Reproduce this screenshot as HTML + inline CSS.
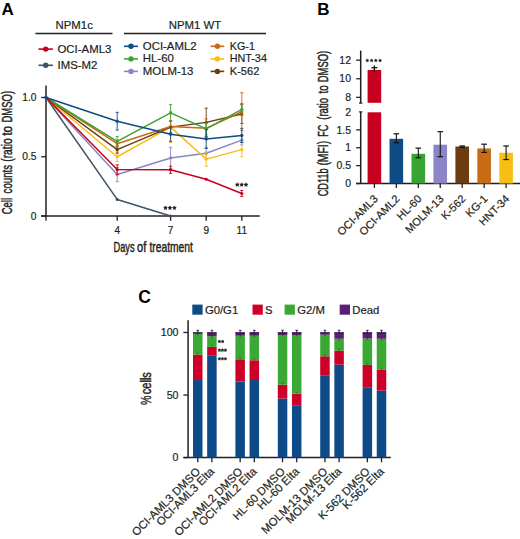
<!DOCTYPE html>
<html><head><meta charset="utf-8"><style>
html,body{margin:0;padding:0;background:#fff;}
svg{display:block;font-family:"Liberation Sans", sans-serif;}
</style></head><body>
<svg width="520" height="539" viewBox="0 0 520 539">
<rect width="520" height="539" fill="#fff"/>
<text x="1.6" y="15.4" font-size="17" text-anchor="start" font-weight="bold" fill="#000"  >A</text>
<text x="74.2" y="28.5" font-size="11.4" text-anchor="middle" font-weight="normal" fill="#231f20" stroke="#231f20" stroke-width="0.2" >NPM1c</text>
<line x1="35.4" y1="33.5" x2="112.5" y2="33.5" stroke="#231f20" stroke-width="1.3"/>
<text x="195" y="28.5" font-size="11.4" text-anchor="middle" font-weight="normal" fill="#231f20" stroke="#231f20" stroke-width="0.2" >NPM1 WT</text>
<line x1="124" y1="33.5" x2="266" y2="33.5" stroke="#231f20" stroke-width="1.3"/>
<line x1="38.5" y1="49.1" x2="52.9" y2="49.1" stroke="#c8001f" stroke-width="1.6"/>
<circle cx="45.7" cy="49.1" r="2.7" fill="#c8001f"/>
<text x="57.5" y="52.8" font-size="11.4" text-anchor="start" font-weight="normal" fill="#231f20" stroke="#231f20" stroke-width="0.2" >OCI-AML3</text>
<line x1="38.5" y1="65.3" x2="52.9" y2="65.3" stroke="#3f5266" stroke-width="1.6"/>
<circle cx="45.7" cy="65.3" r="2.7" fill="#3f5266"/>
<text x="57.5" y="69.0" font-size="11.4" text-anchor="start" font-weight="normal" fill="#231f20" stroke="#231f20" stroke-width="0.2" >IMS-M2</text>
<line x1="124" y1="46.3" x2="138" y2="46.3" stroke="#0f4b84" stroke-width="1.6"/>
<circle cx="131.0" cy="46.3" r="2.7" fill="#0f4b84"/>
<text x="142.8" y="49.8" font-size="11.4" text-anchor="start" font-weight="normal" fill="#231f20" stroke="#231f20" stroke-width="0.2" >OCI-AML2</text>
<line x1="124" y1="58.9" x2="138" y2="58.9" stroke="#38a434" stroke-width="1.6"/>
<circle cx="131.0" cy="58.9" r="2.7" fill="#38a434"/>
<text x="142.8" y="62.4" font-size="11.4" text-anchor="start" font-weight="normal" fill="#231f20" stroke="#231f20" stroke-width="0.2" >HL-60</text>
<line x1="124" y1="71.4" x2="138" y2="71.4" stroke="#8b84c6" stroke-width="1.6"/>
<circle cx="131.0" cy="71.4" r="2.7" fill="#8b84c6"/>
<text x="142.8" y="74.9" font-size="11.4" text-anchor="start" font-weight="normal" fill="#231f20" stroke="#231f20" stroke-width="0.2" >MOLM-13</text>
<line x1="210.6" y1="46.3" x2="224.2" y2="46.3" stroke="#c76c14" stroke-width="1.6"/>
<circle cx="217.39999999999998" cy="46.3" r="2.7" fill="#c76c14"/>
<text x="229.7" y="49.8" font-size="11.4" text-anchor="start" font-weight="normal" fill="#231f20" stroke="#231f20" stroke-width="0.2" textLength="25.2" lengthAdjust="spacingAndGlyphs">KG-1</text>
<line x1="210.6" y1="58.9" x2="224.2" y2="58.9" stroke="#f7bf14" stroke-width="1.6"/>
<circle cx="217.39999999999998" cy="58.9" r="2.7" fill="#f7bf14"/>
<text x="229.7" y="62.4" font-size="11.4" text-anchor="start" font-weight="normal" fill="#231f20" stroke="#231f20" stroke-width="0.2" textLength="37.2" lengthAdjust="spacingAndGlyphs">HNT-34</text>
<line x1="210.6" y1="71.4" x2="224.2" y2="71.4" stroke="#6c3b10" stroke-width="1.6"/>
<circle cx="217.39999999999998" cy="71.4" r="2.7" fill="#6c3b10"/>
<text x="229.7" y="74.9" font-size="11.4" text-anchor="start" font-weight="normal" fill="#231f20" stroke="#231f20" stroke-width="0.2" textLength="29.8" lengthAdjust="spacingAndGlyphs">K-562</text>
<line x1="46" y1="85.6" x2="46" y2="216.6" stroke="#231f20" stroke-width="1.5"/>
<line x1="41.2" y1="216" x2="259.8" y2="216" stroke="#231f20" stroke-width="1.5"/>
<line x1="41.2" y1="97.5" x2="46" y2="97.5" stroke="#231f20" stroke-width="1.3"/>
<text x="36.4" y="101.1" font-size="10.2" text-anchor="end" font-weight="normal" fill="#231f20" stroke="#231f20" stroke-width="0.2" >1.0</text>
<line x1="41.2" y1="156.75" x2="46" y2="156.75" stroke="#231f20" stroke-width="1.3"/>
<text x="36.4" y="160.35" font-size="10.2" text-anchor="end" font-weight="normal" fill="#231f20" stroke="#231f20" stroke-width="0.2" >0.5</text>
<line x1="41.2" y1="216.0" x2="46" y2="216.0" stroke="#231f20" stroke-width="1.3"/>
<text x="36.4" y="219.6" font-size="10.2" text-anchor="end" font-weight="normal" fill="#231f20" stroke="#231f20" stroke-width="0.2" >0</text>
<line x1="46.0" y1="216" x2="46.0" y2="220.8" stroke="#231f20" stroke-width="1.3"/>
<line x1="117.2" y1="216" x2="117.2" y2="220.8" stroke="#231f20" stroke-width="1.3"/>
<line x1="170.60000000000002" y1="216" x2="170.60000000000002" y2="220.8" stroke="#231f20" stroke-width="1.3"/>
<line x1="206.20000000000002" y1="216" x2="206.20000000000002" y2="220.8" stroke="#231f20" stroke-width="1.3"/>
<line x1="241.8" y1="216" x2="241.8" y2="220.8" stroke="#231f20" stroke-width="1.3"/>
<text x="117.2" y="233.8" font-size="10" text-anchor="middle" font-weight="normal" fill="#231f20" stroke="#231f20" stroke-width="0.2" >4</text>
<text x="170.60000000000002" y="233.8" font-size="10" text-anchor="middle" font-weight="normal" fill="#231f20" stroke="#231f20" stroke-width="0.2" >7</text>
<text x="206.20000000000002" y="233.8" font-size="10" text-anchor="middle" font-weight="normal" fill="#231f20" stroke="#231f20" stroke-width="0.2" >9</text>
<text x="241.8" y="233.8" font-size="10" text-anchor="middle" font-weight="normal" fill="#231f20" stroke="#231f20" stroke-width="0.2" >11</text>
<text x="113.50" y="251.8" font-size="14.6" fill="#231f20" stroke="#231f20" stroke-width="0.45" textLength="21.10" lengthAdjust="spacingAndGlyphs">Days</text>
<text x="137.10" y="251.8" font-size="14.6" fill="#231f20" stroke="#231f20" stroke-width="0.45" textLength="9.20" lengthAdjust="spacingAndGlyphs">of</text>
<text x="149.50" y="251.8" font-size="14.6" fill="#231f20" stroke="#231f20" stroke-width="0.45" textLength="43.30" lengthAdjust="spacingAndGlyphs">treatment</text>
<text transform="translate(12.1,214.30) rotate(-90)" x="0" y="0" font-size="14.6" fill="#231f20" stroke="#231f20" stroke-width="0.45" textLength="16.30" lengthAdjust="spacingAndGlyphs">Cell</text>
<text transform="translate(12.1,193.40) rotate(-90)" x="0" y="0" font-size="14.6" fill="#231f20" stroke="#231f20" stroke-width="0.45" textLength="28.40" lengthAdjust="spacingAndGlyphs">counts</text>
<text transform="translate(12.1,161.70) rotate(-90)" x="0" y="0" font-size="14.6" fill="#231f20" stroke="#231f20" stroke-width="0.45" textLength="23.30" lengthAdjust="spacingAndGlyphs">(ratio</text>
<text transform="translate(12.1,135.80) rotate(-90)" x="0" y="0" font-size="14.6" fill="#231f20" stroke="#231f20" stroke-width="0.45" textLength="9.90" lengthAdjust="spacingAndGlyphs">to</text>
<text transform="translate(12.1,122.50) rotate(-90)" x="0" y="0" font-size="14.6" fill="#231f20" stroke="#231f20" stroke-width="0.45" textLength="31.60" lengthAdjust="spacingAndGlyphs">DMSO)</text>
<polyline points="46.00,97.50 117.20,199.41 170.60,216.00" fill="none" stroke="#3f5266" stroke-width="1.5" stroke-linejoin="round"/>
<circle cx="117.20" cy="199.41" r="1.6" fill="#3f5266"/>
<circle cx="170.60" cy="216.00" r="1.6" fill="#3f5266"/>
<polyline points="46.00,97.50 117.20,174.53 170.60,157.94 206.20,153.19 241.80,140.16" fill="none" stroke="#8b84c6" stroke-width="1.5" stroke-linejoin="round"/>
<line x1="117.2" y1="167.41500000000002" x2="117.2" y2="181.635" stroke="#8b84c6" stroke-width="0.9"/>
<line x1="115.60000000000001" y1="167.41500000000002" x2="118.8" y2="167.41500000000002" stroke="#8b84c6" stroke-width="0.9"/>
<line x1="115.60000000000001" y1="181.635" x2="118.8" y2="181.635" stroke="#8b84c6" stroke-width="0.9"/>
<circle cx="117.20" cy="174.53" r="1.6" fill="#8b84c6"/>
<line x1="170.60000000000002" y1="147.27" x2="170.60000000000002" y2="168.6" stroke="#8b84c6" stroke-width="0.9"/>
<line x1="169.00000000000003" y1="147.27" x2="172.20000000000002" y2="147.27" stroke="#8b84c6" stroke-width="0.9"/>
<line x1="169.00000000000003" y1="168.6" x2="172.20000000000002" y2="168.6" stroke="#8b84c6" stroke-width="0.9"/>
<circle cx="170.60" cy="157.94" r="1.6" fill="#8b84c6"/>
<line x1="206.20000000000002" y1="147.26999999999998" x2="206.20000000000002" y2="159.12" stroke="#8b84c6" stroke-width="0.9"/>
<line x1="204.60000000000002" y1="147.26999999999998" x2="207.8" y2="147.26999999999998" stroke="#8b84c6" stroke-width="0.9"/>
<line x1="204.60000000000002" y1="159.12" x2="207.8" y2="159.12" stroke="#8b84c6" stroke-width="0.9"/>
<circle cx="206.20" cy="153.19" r="1.6" fill="#8b84c6"/>
<line x1="241.8" y1="135.42" x2="241.8" y2="144.9" stroke="#8b84c6" stroke-width="0.9"/>
<line x1="240.20000000000002" y1="135.42" x2="243.4" y2="135.42" stroke="#8b84c6" stroke-width="0.9"/>
<line x1="240.20000000000002" y1="144.9" x2="243.4" y2="144.9" stroke="#8b84c6" stroke-width="0.9"/>
<circle cx="241.80" cy="140.16" r="1.6" fill="#8b84c6"/>
<polyline points="46.00,97.50 117.20,156.75 170.60,127.12 206.20,159.12 241.80,149.64" fill="none" stroke="#f7bf14" stroke-width="1.5" stroke-linejoin="round"/>
<line x1="117.2" y1="152.01" x2="117.2" y2="161.49" stroke="#f7bf14" stroke-width="0.9"/>
<line x1="115.60000000000001" y1="152.01" x2="118.8" y2="152.01" stroke="#f7bf14" stroke-width="0.9"/>
<line x1="115.60000000000001" y1="161.49" x2="118.8" y2="161.49" stroke="#f7bf14" stroke-width="0.9"/>
<circle cx="117.20" cy="156.75" r="1.6" fill="#f7bf14"/>
<line x1="170.60000000000002" y1="111.72" x2="170.60000000000002" y2="142.53" stroke="#f7bf14" stroke-width="0.9"/>
<line x1="169.00000000000003" y1="111.72" x2="172.20000000000002" y2="111.72" stroke="#f7bf14" stroke-width="0.9"/>
<line x1="169.00000000000003" y1="142.53" x2="172.20000000000002" y2="142.53" stroke="#f7bf14" stroke-width="0.9"/>
<circle cx="170.60" cy="127.12" r="1.6" fill="#f7bf14"/>
<line x1="206.20000000000002" y1="152.01" x2="206.20000000000002" y2="166.23000000000002" stroke="#f7bf14" stroke-width="0.9"/>
<line x1="204.60000000000002" y1="152.01" x2="207.8" y2="152.01" stroke="#f7bf14" stroke-width="0.9"/>
<line x1="204.60000000000002" y1="166.23000000000002" x2="207.8" y2="166.23000000000002" stroke="#f7bf14" stroke-width="0.9"/>
<circle cx="206.20" cy="159.12" r="1.6" fill="#f7bf14"/>
<line x1="241.8" y1="142.52999999999997" x2="241.8" y2="156.75" stroke="#f7bf14" stroke-width="0.9"/>
<line x1="240.20000000000002" y1="142.52999999999997" x2="243.4" y2="142.52999999999997" stroke="#f7bf14" stroke-width="0.9"/>
<line x1="240.20000000000002" y1="156.75" x2="243.4" y2="156.75" stroke="#f7bf14" stroke-width="0.9"/>
<circle cx="241.80" cy="149.64" r="1.6" fill="#f7bf14"/>
<polyline points="46.00,97.50 117.20,149.64 170.60,127.12 206.20,122.38 241.80,114.09" fill="none" stroke="#6c3b10" stroke-width="1.5" stroke-linejoin="round"/>
<line x1="117.2" y1="146.08499999999998" x2="117.2" y2="153.195" stroke="#6c3b10" stroke-width="0.9"/>
<line x1="115.60000000000001" y1="146.08499999999998" x2="118.8" y2="146.08499999999998" stroke="#6c3b10" stroke-width="0.9"/>
<line x1="115.60000000000001" y1="153.195" x2="118.8" y2="153.195" stroke="#6c3b10" stroke-width="0.9"/>
<circle cx="117.20" cy="149.64" r="1.6" fill="#6c3b10"/>
<line x1="170.60000000000002" y1="121.19999999999999" x2="170.60000000000002" y2="133.05" stroke="#6c3b10" stroke-width="0.9"/>
<line x1="169.00000000000003" y1="121.19999999999999" x2="172.20000000000002" y2="121.19999999999999" stroke="#6c3b10" stroke-width="0.9"/>
<line x1="169.00000000000003" y1="133.05" x2="172.20000000000002" y2="133.05" stroke="#6c3b10" stroke-width="0.9"/>
<circle cx="170.60" cy="127.12" r="1.6" fill="#6c3b10"/>
<line x1="206.20000000000002" y1="108.16499999999999" x2="206.20000000000002" y2="136.605" stroke="#6c3b10" stroke-width="0.9"/>
<line x1="204.60000000000002" y1="108.16499999999999" x2="207.8" y2="108.16499999999999" stroke="#6c3b10" stroke-width="0.9"/>
<line x1="204.60000000000002" y1="136.605" x2="207.8" y2="136.605" stroke="#6c3b10" stroke-width="0.9"/>
<circle cx="206.20" cy="122.38" r="1.6" fill="#6c3b10"/>
<line x1="241.8" y1="104.61" x2="241.8" y2="123.57" stroke="#6c3b10" stroke-width="0.9"/>
<line x1="240.20000000000002" y1="104.61" x2="243.4" y2="104.61" stroke="#6c3b10" stroke-width="0.9"/>
<line x1="240.20000000000002" y1="123.57" x2="243.4" y2="123.57" stroke="#6c3b10" stroke-width="0.9"/>
<circle cx="241.80" cy="114.09" r="1.6" fill="#6c3b10"/>
<polyline points="46.00,97.50 117.20,143.72 170.60,126.53 206.20,128.31 241.80,111.72" fill="none" stroke="#c76c14" stroke-width="1.5" stroke-linejoin="round"/>
<line x1="117.2" y1="140.16" x2="117.2" y2="147.27" stroke="#c76c14" stroke-width="0.9"/>
<line x1="115.60000000000001" y1="140.16" x2="118.8" y2="140.16" stroke="#c76c14" stroke-width="0.9"/>
<line x1="115.60000000000001" y1="147.27" x2="118.8" y2="147.27" stroke="#c76c14" stroke-width="0.9"/>
<circle cx="117.20" cy="143.72" r="1.6" fill="#c76c14"/>
<line x1="170.60000000000002" y1="120.60749999999999" x2="170.60000000000002" y2="132.4575" stroke="#c76c14" stroke-width="0.9"/>
<line x1="169.00000000000003" y1="120.60749999999999" x2="172.20000000000002" y2="120.60749999999999" stroke="#c76c14" stroke-width="0.9"/>
<line x1="169.00000000000003" y1="132.4575" x2="172.20000000000002" y2="132.4575" stroke="#c76c14" stroke-width="0.9"/>
<circle cx="170.60" cy="126.53" r="1.6" fill="#c76c14"/>
<line x1="206.20000000000002" y1="118.83000000000001" x2="206.20000000000002" y2="137.79" stroke="#c76c14" stroke-width="0.9"/>
<line x1="204.60000000000002" y1="118.83000000000001" x2="207.8" y2="118.83000000000001" stroke="#c76c14" stroke-width="0.9"/>
<line x1="204.60000000000002" y1="137.79" x2="207.8" y2="137.79" stroke="#c76c14" stroke-width="0.9"/>
<circle cx="206.20" cy="128.31" r="1.6" fill="#c76c14"/>
<line x1="241.8" y1="92.75999999999999" x2="241.8" y2="130.68" stroke="#c76c14" stroke-width="0.9"/>
<line x1="240.20000000000002" y1="92.75999999999999" x2="243.4" y2="92.75999999999999" stroke="#c76c14" stroke-width="0.9"/>
<line x1="240.20000000000002" y1="130.68" x2="243.4" y2="130.68" stroke="#c76c14" stroke-width="0.9"/>
<circle cx="241.80" cy="111.72" r="1.6" fill="#c76c14"/>
<polyline points="46.00,97.50 117.20,141.34 170.60,112.91 206.20,128.90 241.80,109.35" fill="none" stroke="#38a434" stroke-width="1.5" stroke-linejoin="round"/>
<line x1="117.2" y1="136.605" x2="117.2" y2="146.085" stroke="#38a434" stroke-width="0.9"/>
<line x1="115.60000000000001" y1="136.605" x2="118.8" y2="136.605" stroke="#38a434" stroke-width="0.9"/>
<line x1="115.60000000000001" y1="146.085" x2="118.8" y2="146.085" stroke="#38a434" stroke-width="0.9"/>
<circle cx="117.20" cy="141.34" r="1.6" fill="#38a434"/>
<line x1="170.60000000000002" y1="104.61" x2="170.60000000000002" y2="121.19999999999999" stroke="#38a434" stroke-width="0.9"/>
<line x1="169.00000000000003" y1="104.61" x2="172.20000000000002" y2="104.61" stroke="#38a434" stroke-width="0.9"/>
<line x1="169.00000000000003" y1="121.19999999999999" x2="172.20000000000002" y2="121.19999999999999" stroke="#38a434" stroke-width="0.9"/>
<circle cx="170.60" cy="112.91" r="1.6" fill="#38a434"/>
<line x1="206.20000000000002" y1="122.97749999999999" x2="206.20000000000002" y2="134.8275" stroke="#38a434" stroke-width="0.9"/>
<line x1="204.60000000000002" y1="122.97749999999999" x2="207.8" y2="122.97749999999999" stroke="#38a434" stroke-width="0.9"/>
<line x1="204.60000000000002" y1="134.8275" x2="207.8" y2="134.8275" stroke="#38a434" stroke-width="0.9"/>
<circle cx="206.20" cy="128.90" r="1.6" fill="#38a434"/>
<line x1="241.8" y1="103.425" x2="241.8" y2="115.275" stroke="#38a434" stroke-width="0.9"/>
<line x1="240.20000000000002" y1="103.425" x2="243.4" y2="103.425" stroke="#38a434" stroke-width="0.9"/>
<line x1="240.20000000000002" y1="115.275" x2="243.4" y2="115.275" stroke="#38a434" stroke-width="0.9"/>
<circle cx="241.80" cy="109.35" r="1.6" fill="#38a434"/>
<polyline points="46.00,97.50 117.20,121.20 170.60,134.24 206.20,138.97 241.80,135.42" fill="none" stroke="#0f4b84" stroke-width="1.5" stroke-linejoin="round"/>
<line x1="117.2" y1="112.3125" x2="117.2" y2="130.08749999999998" stroke="#0f4b84" stroke-width="0.9"/>
<line x1="115.60000000000001" y1="112.3125" x2="118.8" y2="112.3125" stroke="#0f4b84" stroke-width="0.9"/>
<line x1="115.60000000000001" y1="130.08749999999998" x2="118.8" y2="130.08749999999998" stroke="#0f4b84" stroke-width="0.9"/>
<circle cx="117.20" cy="121.20" r="1.6" fill="#0f4b84"/>
<line x1="170.60000000000002" y1="127.125" x2="170.60000000000002" y2="141.34500000000003" stroke="#0f4b84" stroke-width="0.9"/>
<line x1="169.00000000000003" y1="127.125" x2="172.20000000000002" y2="127.125" stroke="#0f4b84" stroke-width="0.9"/>
<line x1="169.00000000000003" y1="141.34500000000003" x2="172.20000000000002" y2="141.34500000000003" stroke="#0f4b84" stroke-width="0.9"/>
<circle cx="170.60" cy="134.24" r="1.6" fill="#0f4b84"/>
<line x1="206.20000000000002" y1="129.495" x2="206.20000000000002" y2="148.45499999999998" stroke="#0f4b84" stroke-width="0.9"/>
<line x1="204.60000000000002" y1="129.495" x2="207.8" y2="129.495" stroke="#0f4b84" stroke-width="0.9"/>
<line x1="204.60000000000002" y1="148.45499999999998" x2="207.8" y2="148.45499999999998" stroke="#0f4b84" stroke-width="0.9"/>
<circle cx="206.20" cy="138.97" r="1.6" fill="#0f4b84"/>
<line x1="241.8" y1="128.31" x2="241.8" y2="142.52999999999997" stroke="#0f4b84" stroke-width="0.9"/>
<line x1="240.20000000000002" y1="128.31" x2="243.4" y2="128.31" stroke="#0f4b84" stroke-width="0.9"/>
<line x1="240.20000000000002" y1="142.52999999999997" x2="243.4" y2="142.52999999999997" stroke="#0f4b84" stroke-width="0.9"/>
<circle cx="241.80" cy="135.42" r="1.6" fill="#0f4b84"/>
<polyline points="46.00,97.50 117.20,169.55 170.60,169.78 206.20,179.26 241.80,193.49" fill="none" stroke="#c8001f" stroke-width="1.5" stroke-linejoin="round"/>
<line x1="117.2" y1="164.808" x2="117.2" y2="174.288" stroke="#c8001f" stroke-width="0.9"/>
<line x1="115.60000000000001" y1="164.808" x2="118.8" y2="164.808" stroke="#c8001f" stroke-width="0.9"/>
<line x1="115.60000000000001" y1="174.288" x2="118.8" y2="174.288" stroke="#c8001f" stroke-width="0.9"/>
<circle cx="117.20" cy="169.55" r="1.6" fill="#c8001f"/>
<line x1="170.60000000000002" y1="166.23" x2="170.60000000000002" y2="173.34" stroke="#c8001f" stroke-width="0.9"/>
<line x1="169.00000000000003" y1="166.23" x2="172.20000000000002" y2="166.23" stroke="#c8001f" stroke-width="0.9"/>
<line x1="169.00000000000003" y1="173.34" x2="172.20000000000002" y2="173.34" stroke="#c8001f" stroke-width="0.9"/>
<circle cx="170.60" cy="169.78" r="1.6" fill="#c8001f"/>
<circle cx="206.20" cy="179.26" r="1.6" fill="#c8001f"/>
<line x1="241.8" y1="190.5225" x2="241.8" y2="196.4475" stroke="#c8001f" stroke-width="0.9"/>
<line x1="240.20000000000002" y1="190.5225" x2="243.4" y2="190.5225" stroke="#c8001f" stroke-width="0.9"/>
<line x1="240.20000000000002" y1="196.4475" x2="243.4" y2="196.4475" stroke="#c8001f" stroke-width="0.9"/>
<circle cx="241.80" cy="193.49" r="1.6" fill="#c8001f"/>
<circle cx="46.00" cy="97.50" r="1.8" fill="#0f4b84"/>
<polygon points="165.50,205.90 166.09,207.09 167.40,207.28 166.45,208.21 166.68,209.52 165.50,208.90 164.32,209.52 164.55,208.21 163.60,207.28 164.91,207.09" fill="#1a1a1a" stroke="#1a1a1a" stroke-width="0.5" stroke-linejoin="round"/>
<polygon points="169.95,205.90 170.54,207.09 171.85,207.28 170.90,208.21 171.13,209.52 169.95,208.90 168.77,209.52 169.00,208.21 168.05,207.28 169.36,207.09" fill="#1a1a1a" stroke="#1a1a1a" stroke-width="0.5" stroke-linejoin="round"/>
<polygon points="174.40,205.90 174.99,207.09 176.30,207.28 175.35,208.21 175.58,209.52 174.40,208.90 173.22,209.52 173.45,208.21 172.50,207.28 173.81,207.09" fill="#1a1a1a" stroke="#1a1a1a" stroke-width="0.5" stroke-linejoin="round"/>
<polygon points="237.30,182.70 237.89,183.89 239.20,184.08 238.25,185.01 238.48,186.32 237.30,185.70 236.12,186.32 236.35,185.01 235.40,184.08 236.71,183.89" fill="#1a1a1a" stroke="#1a1a1a" stroke-width="0.5" stroke-linejoin="round"/>
<polygon points="241.70,182.70 242.29,183.89 243.60,184.08 242.65,185.01 242.88,186.32 241.70,185.70 240.52,186.32 240.75,185.01 239.80,184.08 241.11,183.89" fill="#1a1a1a" stroke="#1a1a1a" stroke-width="0.5" stroke-linejoin="round"/>
<polygon points="246.00,182.70 246.59,183.89 247.90,184.08 246.95,185.01 247.18,186.32 246.00,185.70 244.82,186.32 245.05,185.01 244.10,184.08 245.41,183.89" fill="#1a1a1a" stroke="#1a1a1a" stroke-width="0.5" stroke-linejoin="round"/>
<text x="317.2" y="15.4" font-size="17" text-anchor="start" font-weight="bold" fill="#000"  >B</text>
<line x1="360.7" y1="50.6" x2="360.7" y2="103.1" stroke="#231f20" stroke-width="1.5"/>
<line x1="359.0" y1="103.1" x2="362.4" y2="103.1" stroke="#231f20" stroke-width="1.2"/>
<line x1="360.7" y1="111.9" x2="360.7" y2="183.5" stroke="#231f20" stroke-width="1.5"/>
<line x1="359.0" y1="111.9" x2="362.4" y2="111.9" stroke="#231f20" stroke-width="1.2"/>
<line x1="356.2" y1="183.5" x2="520" y2="183.5" stroke="#231f20" stroke-width="1.5"/>
<line x1="356.2" y1="60.15" x2="360.7" y2="60.15" stroke="#231f20" stroke-width="1.3"/>
<text x="351" y="63.85" font-size="10.5" text-anchor="end" font-weight="normal" fill="#231f20" stroke="#231f20" stroke-width="0.2" >12</text>
<line x1="356.2" y1="78.75" x2="360.7" y2="78.75" stroke="#231f20" stroke-width="1.3"/>
<text x="351" y="82.45" font-size="10.5" text-anchor="end" font-weight="normal" fill="#231f20" stroke="#231f20" stroke-width="0.2" >10</text>
<line x1="356.2" y1="97.35" x2="360.7" y2="97.35" stroke="#231f20" stroke-width="1.3"/>
<text x="351" y="101.05" font-size="10.5" text-anchor="end" font-weight="normal" fill="#231f20" stroke="#231f20" stroke-width="0.2" >8</text>
<text x="351" y="115.7" font-size="10.5" text-anchor="end" font-weight="normal" fill="#231f20" stroke="#231f20" stroke-width="0.2" >2</text>
<line x1="356.2" y1="129.875" x2="360.7" y2="129.875" stroke="#231f20" stroke-width="1.3"/>
<text x="351" y="133.575" font-size="10.5" text-anchor="end" font-weight="normal" fill="#231f20" stroke="#231f20" stroke-width="0.2" >1.5</text>
<line x1="356.2" y1="147.75" x2="360.7" y2="147.75" stroke="#231f20" stroke-width="1.3"/>
<text x="351" y="151.45" font-size="10.5" text-anchor="end" font-weight="normal" fill="#231f20" stroke="#231f20" stroke-width="0.2" >1</text>
<line x1="356.2" y1="165.625" x2="360.7" y2="165.625" stroke="#231f20" stroke-width="1.3"/>
<text x="351" y="169.325" font-size="10.5" text-anchor="end" font-weight="normal" fill="#231f20" stroke="#231f20" stroke-width="0.2" >0.5</text>
<line x1="356.2" y1="183.5" x2="360.7" y2="183.5" stroke="#231f20" stroke-width="1.3"/>
<text x="351" y="187.2" font-size="10.5" text-anchor="end" font-weight="normal" fill="#231f20" stroke="#231f20" stroke-width="0.2" >0</text>
<text transform="translate(327.6,196.30) rotate(-90)" x="0" y="0" font-size="14.4" fill="#231f20" stroke="#231f20" stroke-width="0.45" textLength="27.90" lengthAdjust="spacingAndGlyphs">CD11b</text>
<text transform="translate(327.6,165.60) rotate(-90)" x="0" y="0" font-size="14.4" fill="#231f20" stroke="#231f20" stroke-width="0.45" textLength="24.70" lengthAdjust="spacingAndGlyphs">(MFI)</text>
<text transform="translate(327.6,136.80) rotate(-90)" x="0" y="0" font-size="14.4" fill="#231f20" stroke="#231f20" stroke-width="0.45" textLength="12.20" lengthAdjust="spacingAndGlyphs">FC</text>
<text transform="translate(327.6,119.80) rotate(-90)" x="0" y="0" font-size="14.4" fill="#231f20" stroke="#231f20" stroke-width="0.45" textLength="21.80" lengthAdjust="spacingAndGlyphs">(ratio</text>
<text transform="translate(327.6,93.40) rotate(-90)" x="0" y="0" font-size="14.4" fill="#231f20" stroke="#231f20" stroke-width="0.45" textLength="8.20" lengthAdjust="spacingAndGlyphs">to</text>
<text transform="translate(327.6,82.30) rotate(-90)" x="0" y="0" font-size="14.4" fill="#231f20" stroke="#231f20" stroke-width="0.45" textLength="31.50" lengthAdjust="spacingAndGlyphs">DMSO)</text>
<rect x="367.60" y="69.92" width="13.60" height="32.88" fill="#c8001f"/>
<rect x="367.60" y="112.30" width="13.60" height="71.20" fill="#c8001f"/>
<line x1="374.4" y1="65.4" x2="374.4" y2="71.6" stroke="#111" stroke-width="1.3"/>
<line x1="371.4" y1="67.7" x2="377.4" y2="67.7" stroke="#111" stroke-width="1.3"/>
<line x1="374.4" y1="183.5" x2="374.4" y2="188.0" stroke="#231f20" stroke-width="1.3"/>
<text transform="translate(378.50,199.5) rotate(-45)" x="0" y="0" font-size="11" text-anchor="end" fill="#231f20" stroke="#231f20" stroke-width="0.2">OCI-AML3</text>
<rect x="389.55" y="138.81" width="13.60" height="44.69" fill="#0f4b84"/>
<line x1="396.34999999999997" y1="133.8075" x2="396.34999999999997" y2="142.745" stroke="#111" stroke-width="1.1"/>
<line x1="393.54999999999995" y1="133.8075" x2="399.15" y2="133.8075" stroke="#111" stroke-width="1.2"/>
<line x1="393.54999999999995" y1="142.745" x2="399.15" y2="142.745" stroke="#111" stroke-width="1.2"/>
<line x1="396.34999999999997" y1="183.5" x2="396.34999999999997" y2="188.0" stroke="#231f20" stroke-width="1.3"/>
<text transform="translate(400.45,199.5) rotate(-45)" x="0" y="0" font-size="11" text-anchor="end" fill="#231f20" stroke="#231f20" stroke-width="0.2">OCI-AML2</text>
<rect x="411.50" y="153.83" width="13.60" height="29.67" fill="#38a434"/>
<line x1="418.29999999999995" y1="148.10750000000002" x2="418.29999999999995" y2="157.76" stroke="#111" stroke-width="1.1"/>
<line x1="415.49999999999994" y1="148.10750000000002" x2="421.09999999999997" y2="148.10750000000002" stroke="#111" stroke-width="1.2"/>
<line x1="415.49999999999994" y1="157.76" x2="421.09999999999997" y2="157.76" stroke="#111" stroke-width="1.2"/>
<line x1="418.29999999999995" y1="183.5" x2="418.29999999999995" y2="188.0" stroke="#231f20" stroke-width="1.3"/>
<text transform="translate(422.40,199.5) rotate(-45)" x="0" y="0" font-size="11" text-anchor="end" fill="#231f20" stroke="#231f20" stroke-width="0.2">HL-60</text>
<rect x="433.45" y="144.71" width="13.60" height="38.79" fill="#8b84c6"/>
<line x1="440.25" y1="131.6625" x2="440.25" y2="156.6875" stroke="#111" stroke-width="1.1"/>
<line x1="437.45" y1="131.6625" x2="443.05" y2="131.6625" stroke="#111" stroke-width="1.2"/>
<line x1="437.45" y1="156.6875" x2="443.05" y2="156.6875" stroke="#111" stroke-width="1.2"/>
<line x1="440.25" y1="183.5" x2="440.25" y2="188.0" stroke="#231f20" stroke-width="1.3"/>
<text transform="translate(444.35,199.5) rotate(-45)" x="0" y="0" font-size="11" text-anchor="end" fill="#231f20" stroke="#231f20" stroke-width="0.2">MOLM-13</text>
<rect x="455.40" y="146.50" width="13.60" height="37.00" fill="#6c3b10"/>
<line x1="462.2" y1="145.9625" x2="462.2" y2="147.39249999999998" stroke="#111" stroke-width="1.1"/>
<line x1="459.4" y1="145.9625" x2="465.0" y2="145.9625" stroke="#111" stroke-width="1.2"/>
<line x1="459.4" y1="147.39249999999998" x2="465.0" y2="147.39249999999998" stroke="#111" stroke-width="1.2"/>
<line x1="462.2" y1="183.5" x2="462.2" y2="188.0" stroke="#231f20" stroke-width="1.3"/>
<text transform="translate(466.30,199.5) rotate(-45)" x="0" y="0" font-size="11" text-anchor="end" fill="#231f20" stroke="#231f20" stroke-width="0.2">K-562</text>
<rect x="477.35" y="148.47" width="13.60" height="35.03" fill="#c76c14"/>
<line x1="484.15" y1="144.175" x2="484.15" y2="152.3975" stroke="#111" stroke-width="1.1"/>
<line x1="481.34999999999997" y1="144.175" x2="486.95" y2="144.175" stroke="#111" stroke-width="1.2"/>
<line x1="481.34999999999997" y1="152.3975" x2="486.95" y2="152.3975" stroke="#111" stroke-width="1.2"/>
<line x1="484.15" y1="183.5" x2="484.15" y2="188.0" stroke="#231f20" stroke-width="1.3"/>
<text transform="translate(488.25,199.5) rotate(-45)" x="0" y="0" font-size="11" text-anchor="end" fill="#231f20" stroke="#231f20" stroke-width="0.2">KG-1</text>
<rect x="499.30" y="152.75" width="13.60" height="30.75" fill="#f7bf14"/>
<line x1="506.09999999999997" y1="145.9625" x2="506.09999999999997" y2="159.5475" stroke="#111" stroke-width="1.1"/>
<line x1="503.29999999999995" y1="145.9625" x2="508.9" y2="145.9625" stroke="#111" stroke-width="1.2"/>
<line x1="503.29999999999995" y1="159.5475" x2="508.9" y2="159.5475" stroke="#111" stroke-width="1.2"/>
<line x1="506.09999999999997" y1="183.5" x2="506.09999999999997" y2="188.0" stroke="#231f20" stroke-width="1.3"/>
<text transform="translate(510.20,199.5) rotate(-45)" x="0" y="0" font-size="11" text-anchor="end" fill="#231f20" stroke="#231f20" stroke-width="0.2">HNT-34</text>
<polygon points="367.30,58.90 367.77,59.85 368.82,60.01 368.06,60.75 368.24,61.79 367.30,61.30 366.36,61.79 366.54,60.75 365.78,60.01 366.83,59.85" fill="#1a1a1a" stroke="#1a1a1a" stroke-width="0.5" stroke-linejoin="round"/>
<polygon points="371.60,58.90 372.07,59.85 373.12,60.01 372.36,60.75 372.54,61.79 371.60,61.30 370.66,61.79 370.84,60.75 370.08,60.01 371.13,59.85" fill="#1a1a1a" stroke="#1a1a1a" stroke-width="0.5" stroke-linejoin="round"/>
<polygon points="375.80,58.90 376.27,59.85 377.32,60.01 376.56,60.75 376.74,61.79 375.80,61.30 374.86,61.79 375.04,60.75 374.28,60.01 375.33,59.85" fill="#1a1a1a" stroke="#1a1a1a" stroke-width="0.5" stroke-linejoin="round"/>
<polygon points="380.10,58.90 380.57,59.85 381.62,60.01 380.86,60.75 381.04,61.79 380.10,61.30 379.16,61.79 379.34,60.75 378.58,60.01 379.63,59.85" fill="#1a1a1a" stroke="#1a1a1a" stroke-width="0.5" stroke-linejoin="round"/>
<text x="138.2" y="303.4" font-size="17.5" text-anchor="start" font-weight="bold" fill="#000"  >C</text>
<rect x="192.30" y="304.60" width="10.30" height="10.10" fill="#0f4a88"/>
<text x="204.9" y="313.6" font-size="11.3" text-anchor="start" font-weight="normal" fill="#231f20" stroke="#231f20" stroke-width="0.2" >G0/G1</text>
<rect x="252.50" y="304.60" width="10.30" height="10.10" fill="#cd0029"/>
<text x="265.1" y="313.6" font-size="11.3" text-anchor="start" font-weight="normal" fill="#231f20" stroke="#231f20" stroke-width="0.2" >S</text>
<rect x="284.60" y="304.60" width="10.30" height="10.10" fill="#3aa934"/>
<text x="297.20000000000005" y="313.6" font-size="11.3" text-anchor="start" font-weight="normal" fill="#231f20" stroke="#231f20" stroke-width="0.2" >G2/M</text>
<rect x="339.70" y="304.60" width="10.30" height="10.10" fill="#5a1f77"/>
<text x="352.3" y="313.6" font-size="11.3" text-anchor="start" font-weight="normal" fill="#231f20" stroke="#231f20" stroke-width="0.2" >Dead</text>
<line x1="188.1" y1="320.2" x2="188.1" y2="457.6" stroke="#231f20" stroke-width="1.5"/>
<line x1="183.4" y1="457.6" x2="390.8" y2="457.6" stroke="#231f20" stroke-width="1.5"/>
<line x1="183.4" y1="332.5" x2="188.1" y2="332.5" stroke="#231f20" stroke-width="1.3"/>
<text x="178.5" y="336.3" font-size="10.6" text-anchor="end" font-weight="normal" fill="#231f20" stroke="#231f20" stroke-width="0.2" >100</text>
<line x1="183.4" y1="395.05" x2="188.1" y2="395.05" stroke="#231f20" stroke-width="1.3"/>
<text x="178.5" y="398.85" font-size="10.6" text-anchor="end" font-weight="normal" fill="#231f20" stroke="#231f20" stroke-width="0.2" >50</text>
<line x1="183.4" y1="457.6" x2="188.1" y2="457.6" stroke="#231f20" stroke-width="1.3"/>
<text x="178.5" y="461.40000000000003" font-size="10.6" text-anchor="end" font-weight="normal" fill="#231f20" stroke="#231f20" stroke-width="0.2" >0</text>
<text transform="translate(151.3,405.00) rotate(-90)" x="0" y="0" font-size="14.6" fill="#231f20" stroke="#231f20" stroke-width="0.45" textLength="9.50" lengthAdjust="spacingAndGlyphs">%</text>
<text transform="translate(151.3,394.20) rotate(-90)" x="0" y="0" font-size="14.6" fill="#231f20" stroke="#231f20" stroke-width="0.45" textLength="22.10" lengthAdjust="spacingAndGlyphs">cells</text>
<rect x="193.00" y="380.04" width="9.50" height="77.56" fill="#0f4a88"/>
<rect x="193.00" y="354.64" width="9.50" height="25.40" fill="#cd0029"/>
<rect x="193.00" y="333.75" width="9.50" height="20.89" fill="#3aa934"/>
<rect x="193.00" y="332.50" width="9.50" height="1.25" fill="#5a1f77"/>
<line x1="197.75" y1="457.6" x2="197.75" y2="462.3" stroke="#231f20" stroke-width="1.3"/>
<rect x="193.00" y="332.30" width="9.50" height="1.10" fill="#2a1638"/>
<line x1="197.75" y1="330.3" x2="197.75" y2="334.0" stroke="#2a1638" stroke-width="0.9"/>
<line x1="196.45" y1="330.3" x2="199.05" y2="330.3" stroke="#2a1638" stroke-width="0.9"/>
<line x1="197.75" y1="332.25100000000003" x2="197.75" y2="335.25100000000003" stroke="#3a2a40" stroke-width="0.7"/>
<line x1="196.55" y1="332.25100000000003" x2="198.95" y2="332.25100000000003" stroke="#3a2a40" stroke-width="0.7"/>
<line x1="197.75" y1="353.14270000000005" x2="197.75" y2="356.14270000000005" stroke="#6a4a20" stroke-width="0.6"/>
<line x1="196.65" y1="353.14270000000005" x2="198.85" y2="353.14270000000005" stroke="#6a4a20" stroke-width="0.6"/>
<text transform="translate(200.95,472.3) rotate(-45)" x="0" y="0" font-size="11.4" text-anchor="end" fill="#231f20" stroke="#231f20" stroke-width="0.2">OCI-AML3 DMSO</text>
<rect x="207.15" y="355.77" width="9.50" height="101.83" fill="#0f4a88"/>
<rect x="207.15" y="346.89" width="9.50" height="8.88" fill="#cd0029"/>
<rect x="207.15" y="336.25" width="9.50" height="10.63" fill="#3aa934"/>
<rect x="207.15" y="332.50" width="9.50" height="3.75" fill="#5a1f77"/>
<line x1="211.9" y1="457.6" x2="211.9" y2="462.3" stroke="#231f20" stroke-width="1.3"/>
<rect x="207.15" y="332.30" width="9.50" height="1.10" fill="#2a1638"/>
<line x1="211.9" y1="330.3" x2="211.9" y2="334.0" stroke="#2a1638" stroke-width="0.9"/>
<line x1="210.6" y1="330.3" x2="213.20000000000002" y2="330.3" stroke="#2a1638" stroke-width="0.9"/>
<line x1="211.9" y1="334.75300000000004" x2="211.9" y2="337.75300000000004" stroke="#3a2a40" stroke-width="0.7"/>
<line x1="210.70000000000002" y1="334.75300000000004" x2="213.1" y2="334.75300000000004" stroke="#3a2a40" stroke-width="0.7"/>
<line x1="211.9" y1="345.3865" x2="211.9" y2="348.3865" stroke="#6a4a20" stroke-width="0.6"/>
<line x1="210.8" y1="345.3865" x2="213.0" y2="345.3865" stroke="#6a4a20" stroke-width="0.6"/>
<text transform="translate(215.10,472.3) rotate(-45)" x="0" y="0" font-size="11.4" text-anchor="end" fill="#231f20" stroke="#231f20" stroke-width="0.2">OCI-AML3 Elta</text>
<rect x="235.40" y="381.54" width="9.50" height="76.06" fill="#0f4a88"/>
<rect x="235.40" y="359.27" width="9.50" height="22.27" fill="#cd0029"/>
<rect x="235.40" y="335.75" width="9.50" height="23.52" fill="#3aa934"/>
<rect x="235.40" y="332.50" width="9.50" height="3.25" fill="#5a1f77"/>
<line x1="240.15" y1="457.6" x2="240.15" y2="462.3" stroke="#231f20" stroke-width="1.3"/>
<rect x="235.40" y="332.30" width="9.50" height="1.10" fill="#2a1638"/>
<line x1="240.15" y1="330.3" x2="240.15" y2="334.0" stroke="#2a1638" stroke-width="0.9"/>
<line x1="238.85" y1="330.3" x2="241.45000000000002" y2="330.3" stroke="#2a1638" stroke-width="0.9"/>
<line x1="240.15" y1="334.25260000000003" x2="240.15" y2="337.25260000000003" stroke="#3a2a40" stroke-width="0.7"/>
<line x1="238.95000000000002" y1="334.25260000000003" x2="241.35" y2="334.25260000000003" stroke="#3a2a40" stroke-width="0.7"/>
<line x1="240.15" y1="357.7714" x2="240.15" y2="360.7714" stroke="#6a4a20" stroke-width="0.6"/>
<line x1="239.05" y1="357.7714" x2="241.25" y2="357.7714" stroke="#6a4a20" stroke-width="0.6"/>
<text transform="translate(243.35,472.3) rotate(-45)" x="0" y="0" font-size="11.4" text-anchor="end" fill="#231f20" stroke="#231f20" stroke-width="0.2">OCI-AML2 DMSO</text>
<rect x="249.55" y="380.04" width="9.50" height="77.56" fill="#0f4a88"/>
<rect x="249.55" y="360.27" width="9.50" height="19.77" fill="#cd0029"/>
<rect x="249.55" y="335.75" width="9.50" height="24.52" fill="#3aa934"/>
<rect x="249.55" y="332.50" width="9.50" height="3.25" fill="#5a1f77"/>
<line x1="254.3" y1="457.6" x2="254.3" y2="462.3" stroke="#231f20" stroke-width="1.3"/>
<rect x="249.55" y="332.30" width="9.50" height="1.10" fill="#2a1638"/>
<line x1="254.3" y1="330.3" x2="254.3" y2="334.0" stroke="#2a1638" stroke-width="0.9"/>
<line x1="253.0" y1="330.3" x2="255.60000000000002" y2="330.3" stroke="#2a1638" stroke-width="0.9"/>
<line x1="254.3" y1="334.25260000000003" x2="254.3" y2="337.25260000000003" stroke="#3a2a40" stroke-width="0.7"/>
<line x1="253.10000000000002" y1="334.25260000000003" x2="255.5" y2="334.25260000000003" stroke="#3a2a40" stroke-width="0.7"/>
<line x1="254.3" y1="358.77220000000005" x2="254.3" y2="361.77220000000005" stroke="#6a4a20" stroke-width="0.6"/>
<line x1="253.20000000000002" y1="358.77220000000005" x2="255.4" y2="358.77220000000005" stroke="#6a4a20" stroke-width="0.6"/>
<text transform="translate(257.50,472.3) rotate(-45)" x="0" y="0" font-size="11.4" text-anchor="end" fill="#231f20" stroke="#231f20" stroke-width="0.2">OCI-AML2 Elta</text>
<rect x="277.80" y="398.55" width="9.50" height="59.05" fill="#0f4a88"/>
<rect x="277.80" y="384.67" width="9.50" height="13.89" fill="#cd0029"/>
<rect x="277.80" y="335.00" width="9.50" height="49.66" fill="#3aa934"/>
<rect x="277.80" y="332.50" width="9.50" height="2.50" fill="#5a1f77"/>
<line x1="282.55" y1="457.6" x2="282.55" y2="462.3" stroke="#231f20" stroke-width="1.3"/>
<rect x="277.80" y="332.30" width="9.50" height="1.10" fill="#2a1638"/>
<line x1="282.55" y1="330.3" x2="282.55" y2="334.0" stroke="#2a1638" stroke-width="0.9"/>
<line x1="281.25" y1="330.3" x2="283.85" y2="330.3" stroke="#2a1638" stroke-width="0.9"/>
<line x1="282.55" y1="333.50200000000007" x2="282.55" y2="336.50200000000007" stroke="#3a2a40" stroke-width="0.7"/>
<line x1="281.35" y1="333.50200000000007" x2="283.75" y2="333.50200000000007" stroke="#3a2a40" stroke-width="0.7"/>
<line x1="282.55" y1="383.16670000000005" x2="282.55" y2="386.16670000000005" stroke="#6a4a20" stroke-width="0.6"/>
<line x1="281.45" y1="383.16670000000005" x2="283.65000000000003" y2="383.16670000000005" stroke="#6a4a20" stroke-width="0.6"/>
<text transform="translate(285.75,472.3) rotate(-45)" x="0" y="0" font-size="11.4" text-anchor="end" fill="#231f20" stroke="#231f20" stroke-width="0.2">HL-60 DMSO</text>
<rect x="291.95" y="405.81" width="9.50" height="51.79" fill="#0f4a88"/>
<rect x="291.95" y="393.55" width="9.50" height="12.26" fill="#cd0029"/>
<rect x="291.95" y="335.00" width="9.50" height="58.55" fill="#3aa934"/>
<rect x="291.95" y="332.50" width="9.50" height="2.50" fill="#5a1f77"/>
<line x1="296.7" y1="457.6" x2="296.7" y2="462.3" stroke="#231f20" stroke-width="1.3"/>
<rect x="291.95" y="332.30" width="9.50" height="1.10" fill="#2a1638"/>
<line x1="296.7" y1="330.3" x2="296.7" y2="334.0" stroke="#2a1638" stroke-width="0.9"/>
<line x1="295.4" y1="330.3" x2="298.0" y2="330.3" stroke="#2a1638" stroke-width="0.9"/>
<line x1="296.7" y1="333.50200000000007" x2="296.7" y2="336.50200000000007" stroke="#3a2a40" stroke-width="0.7"/>
<line x1="295.5" y1="333.50200000000007" x2="297.9" y2="333.50200000000007" stroke="#3a2a40" stroke-width="0.7"/>
<line x1="296.7" y1="392.0488" x2="296.7" y2="395.0488" stroke="#6a4a20" stroke-width="0.6"/>
<line x1="295.59999999999997" y1="392.0488" x2="297.8" y2="392.0488" stroke="#6a4a20" stroke-width="0.6"/>
<text transform="translate(299.90,472.3) rotate(-45)" x="0" y="0" font-size="11.4" text-anchor="end" fill="#231f20" stroke="#231f20" stroke-width="0.2">HL-60 Elta</text>
<rect x="320.20" y="375.78" width="9.50" height="81.82" fill="#0f4a88"/>
<rect x="320.20" y="356.27" width="9.50" height="19.52" fill="#cd0029"/>
<rect x="320.20" y="334.75" width="9.50" height="21.52" fill="#3aa934"/>
<rect x="320.20" y="332.50" width="9.50" height="2.25" fill="#5a1f77"/>
<line x1="324.95" y1="457.6" x2="324.95" y2="462.3" stroke="#231f20" stroke-width="1.3"/>
<rect x="320.20" y="332.30" width="9.50" height="1.10" fill="#2a1638"/>
<line x1="324.95" y1="330.3" x2="324.95" y2="334.0" stroke="#2a1638" stroke-width="0.9"/>
<line x1="323.65" y1="330.3" x2="326.25" y2="330.3" stroke="#2a1638" stroke-width="0.9"/>
<line x1="324.95" y1="333.2518" x2="324.95" y2="336.2518" stroke="#3a2a40" stroke-width="0.7"/>
<line x1="323.75" y1="333.2518" x2="326.15" y2="333.2518" stroke="#3a2a40" stroke-width="0.7"/>
<line x1="324.95" y1="354.769" x2="324.95" y2="357.769" stroke="#6a4a20" stroke-width="0.6"/>
<line x1="323.84999999999997" y1="354.769" x2="326.05" y2="354.769" stroke="#6a4a20" stroke-width="0.6"/>
<text transform="translate(328.15,472.3) rotate(-45)" x="0" y="0" font-size="11.4" text-anchor="end" fill="#231f20" stroke="#231f20" stroke-width="0.2">MOLM-13 DMSO</text>
<rect x="334.35" y="364.65" width="9.50" height="92.95" fill="#0f4a88"/>
<rect x="334.35" y="350.76" width="9.50" height="13.89" fill="#cd0029"/>
<rect x="334.35" y="338.76" width="9.50" height="12.01" fill="#3aa934"/>
<rect x="334.35" y="332.50" width="9.50" height="6.26" fill="#5a1f77"/>
<line x1="339.09999999999997" y1="457.6" x2="339.09999999999997" y2="462.3" stroke="#231f20" stroke-width="1.3"/>
<rect x="334.35" y="332.30" width="9.50" height="1.10" fill="#2a1638"/>
<line x1="339.09999999999997" y1="330.3" x2="339.09999999999997" y2="334.0" stroke="#2a1638" stroke-width="0.9"/>
<line x1="337.79999999999995" y1="330.3" x2="340.4" y2="330.3" stroke="#2a1638" stroke-width="0.9"/>
<line x1="339.09999999999997" y1="337.25500000000005" x2="339.09999999999997" y2="340.25500000000005" stroke="#3a2a40" stroke-width="0.7"/>
<line x1="337.9" y1="337.25500000000005" x2="340.29999999999995" y2="337.25500000000005" stroke="#3a2a40" stroke-width="0.7"/>
<line x1="339.09999999999997" y1="349.26460000000003" x2="339.09999999999997" y2="352.26460000000003" stroke="#6a4a20" stroke-width="0.6"/>
<line x1="337.99999999999994" y1="349.26460000000003" x2="340.2" y2="349.26460000000003" stroke="#6a4a20" stroke-width="0.6"/>
<text transform="translate(342.30,472.3) rotate(-45)" x="0" y="0" font-size="11.4" text-anchor="end" fill="#231f20" stroke="#231f20" stroke-width="0.2">MOLM-13 Elta</text>
<rect x="362.60" y="387.79" width="9.50" height="69.81" fill="#0f4a88"/>
<rect x="362.60" y="364.90" width="9.50" height="22.89" fill="#cd0029"/>
<rect x="362.60" y="338.50" width="9.50" height="26.40" fill="#3aa934"/>
<rect x="362.60" y="332.50" width="9.50" height="6.00" fill="#5a1f77"/>
<line x1="367.35" y1="457.6" x2="367.35" y2="462.3" stroke="#231f20" stroke-width="1.3"/>
<rect x="362.60" y="332.30" width="9.50" height="1.10" fill="#2a1638"/>
<line x1="367.35" y1="330.3" x2="367.35" y2="334.0" stroke="#2a1638" stroke-width="0.9"/>
<line x1="366.05" y1="330.3" x2="368.65000000000003" y2="330.3" stroke="#2a1638" stroke-width="0.9"/>
<line x1="367.35" y1="337.00480000000005" x2="367.35" y2="340.00480000000005" stroke="#3a2a40" stroke-width="0.7"/>
<line x1="366.15000000000003" y1="337.00480000000005" x2="368.55" y2="337.00480000000005" stroke="#3a2a40" stroke-width="0.7"/>
<line x1="367.35" y1="363.40090000000004" x2="367.35" y2="366.40090000000004" stroke="#6a4a20" stroke-width="0.6"/>
<line x1="366.25" y1="363.40090000000004" x2="368.45000000000005" y2="363.40090000000004" stroke="#6a4a20" stroke-width="0.6"/>
<text transform="translate(370.55,472.3) rotate(-45)" x="0" y="0" font-size="11.4" text-anchor="end" fill="#231f20" stroke="#231f20" stroke-width="0.2">K-562 DMSO</text>
<rect x="376.75" y="390.55" width="9.50" height="67.05" fill="#0f4a88"/>
<rect x="376.75" y="369.53" width="9.50" height="21.02" fill="#cd0029"/>
<rect x="376.75" y="338.76" width="9.50" height="30.77" fill="#3aa934"/>
<rect x="376.75" y="332.50" width="9.50" height="6.26" fill="#5a1f77"/>
<line x1="381.5" y1="457.6" x2="381.5" y2="462.3" stroke="#231f20" stroke-width="1.3"/>
<rect x="376.75" y="332.30" width="9.50" height="1.10" fill="#2a1638"/>
<line x1="381.5" y1="330.3" x2="381.5" y2="334.0" stroke="#2a1638" stroke-width="0.9"/>
<line x1="380.2" y1="330.3" x2="382.8" y2="330.3" stroke="#2a1638" stroke-width="0.9"/>
<line x1="381.5" y1="337.25500000000005" x2="381.5" y2="340.25500000000005" stroke="#3a2a40" stroke-width="0.7"/>
<line x1="380.3" y1="337.25500000000005" x2="382.7" y2="337.25500000000005" stroke="#3a2a40" stroke-width="0.7"/>
<line x1="381.5" y1="368.0296" x2="381.5" y2="371.0296" stroke="#6a4a20" stroke-width="0.6"/>
<line x1="380.4" y1="368.0296" x2="382.6" y2="368.0296" stroke="#6a4a20" stroke-width="0.6"/>
<text transform="translate(384.70,472.3) rotate(-45)" x="0" y="0" font-size="11.4" text-anchor="end" fill="#231f20" stroke="#231f20" stroke-width="0.2">K-562 Elta</text>
<polygon points="219.40,339.90 219.87,340.85 220.92,341.01 220.16,341.75 220.34,342.79 219.40,342.30 218.46,342.79 218.64,341.75 217.88,341.01 218.93,340.85" fill="#1a1a1a" stroke="#1a1a1a" stroke-width="0.5" stroke-linejoin="round"/>
<polygon points="222.60,339.90 223.07,340.85 224.12,341.01 223.36,341.75 223.54,342.79 222.60,342.30 221.66,342.79 221.84,341.75 221.08,341.01 222.13,340.85" fill="#1a1a1a" stroke="#1a1a1a" stroke-width="0.5" stroke-linejoin="round"/>
<polygon points="219.40,348.60 219.87,349.55 220.92,349.71 220.16,350.45 220.34,351.49 219.40,351.00 218.46,351.49 218.64,350.45 217.88,349.71 218.93,349.55" fill="#1a1a1a" stroke="#1a1a1a" stroke-width="0.5" stroke-linejoin="round"/>
<polygon points="222.40,348.60 222.87,349.55 223.92,349.71 223.16,350.45 223.34,351.49 222.40,351.00 221.46,351.49 221.64,350.45 220.88,349.71 221.93,349.55" fill="#1a1a1a" stroke="#1a1a1a" stroke-width="0.5" stroke-linejoin="round"/>
<polygon points="225.40,348.60 225.87,349.55 226.92,349.71 226.16,350.45 226.34,351.49 225.40,351.00 224.46,351.49 224.64,350.45 223.88,349.71 224.93,349.55" fill="#1a1a1a" stroke="#1a1a1a" stroke-width="0.5" stroke-linejoin="round"/>
<polygon points="219.40,357.20 219.87,358.15 220.92,358.31 220.16,359.05 220.34,360.09 219.40,359.60 218.46,360.09 218.64,359.05 217.88,358.31 218.93,358.15" fill="#1a1a1a" stroke="#1a1a1a" stroke-width="0.5" stroke-linejoin="round"/>
<polygon points="222.40,357.20 222.87,358.15 223.92,358.31 223.16,359.05 223.34,360.09 222.40,359.60 221.46,360.09 221.64,359.05 220.88,358.31 221.93,358.15" fill="#1a1a1a" stroke="#1a1a1a" stroke-width="0.5" stroke-linejoin="round"/>
<polygon points="225.40,357.20 225.87,358.15 226.92,358.31 226.16,359.05 226.34,360.09 225.40,359.60 224.46,360.09 224.64,359.05 223.88,358.31 224.93,358.15" fill="#1a1a1a" stroke="#1a1a1a" stroke-width="0.5" stroke-linejoin="round"/>
</svg>
</body></html>
